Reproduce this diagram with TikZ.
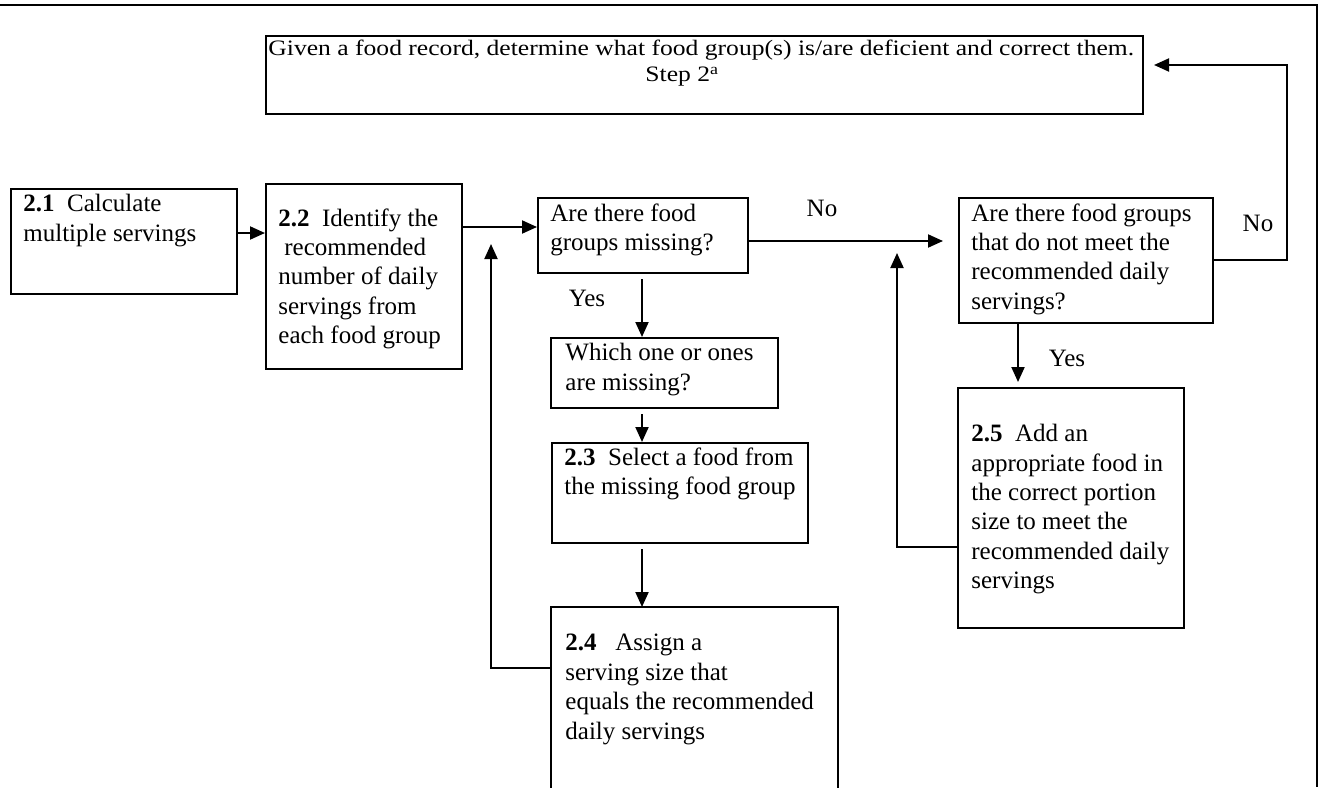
\documentclass[tikz,border=0pt]{standalone}
\usepackage{fontspec}
\usepackage{graphicx}
\setmainfont{Liberation Serif}
\usetikzlibrary{arrows.meta}
\newcommand{\fsz}{\fontsize{12.5}{14.7}\selectfont}
\newcommand{\tsz}{\fontsize{12.8}{15.5}\selectfont}
\tikzset{
  box/.style={draw, line width=1pt, inner sep=0pt, anchor=north west},
  ghost/.style={inner sep=0pt, anchor=north west},
  txt/.style={inner sep=0pt, anchor=north west, align=left, font=\fsz},
  lbl/.style={inner sep=0pt, font=\fsz},
  arr/.style={line width=1pt, -{Triangle[length=7.5pt,width=6.5pt]}},
  ln/.style={line width=1pt},
  frame/.style={line width=0.8pt}
}
\begin{document}
\begin{tikzpicture}[x=0.5pt,y=-0.5pt]
\useasboundingbox (0,0) rectangle (1320,787);
% frame
\coordinate (fl) at (0,5);
\coordinate (fc) at (1317,5);
\coordinate (fb) at (1317,787);
\draw[frame] (fl) -- (fc) -- (fb);

% boxes
\node[box, minimum width=438.5pt, minimum height=39pt] (top) at (265,35) {};
\node[box, minimum width=113pt, minimum height=52.5pt] (b21) at (10,188) {};
\node[box, minimum width=98pt, minimum height=92.5pt] (b22) at (265,183) {};
\node[box, minimum width=105pt, minimum height=37.5pt] (q1) at (537,197) {};
\node[box, minimum width=127pt, minimum height=62.5pt] (q2) at (958,197) {};
\node[box, minimum width=113.5pt, minimum height=35pt] (which) at (550,337) {};
\node[box, minimum width=128pt, minimum height=50pt] (b23) at (551,442) {};
\node[ghost, minimum width=143pt, minimum height=95pt] (b24) at (551,607) {};
\draw[ln] (b24.south west) -- (b24.north west) -- (b24.north east) -- (b24.south east);
\node[box, minimum width=113pt, minimum height=120pt] (b25) at (957,387) {};

% texts
\node[inner sep=0pt, anchor=north west, font=\tsz] (ttop) at (268,36)
  {\scalebox{1}[0.86]{\begin{tabular}{@{}l@{}}Given a food record, determine what food group(s) is/are deficient and correct them.\\\hspace*{188.5pt}Step 2\textsuperscript{a}\end{tabular}}};
\node[txt] (t21) at (23,194) {\textbf{2.1}\ \ Calculate\\multiple servings};
\node[txt] (t22) at (278,208) {\textbf{2.2}\ \ Identify the\\\hspace*{3pt}recommended\\number of daily\\servings from\\each food group};
\node[txt] (tq1) at (550,203) {Are there food\\groups missing?};
\node[txt] (tq2) at (971,203) {Are there food groups\\that do not meet the\\recommended daily\\servings?};
\node[txt] (twh) at (565,343) {Which one or ones\\are missing?};
\node[txt] (t23) at (564,447) {\textbf{2.3}\ \ Select a food from\\the missing food group};
\node[txt] (t24) at (565,634) {\textbf{2.4}\ \ \ Assign a\\serving size that\\equals the recommended\\daily servings};
\node[txt] (t25) at (971,424) {\textbf{2.5}\ \ Add an\\appropriate food in\\the correct portion\\size to meet the\\recommended daily\\servings};

% labels
\node[lbl] (no1) at (822,208) {No};
\node[lbl] (yes1) at (587,298) {Yes};
\node[lbl] (yes2) at (1067,358) {Yes};
\node[lbl] (no2) at (1258,223) {No};

% helper coordinates
\coordinate (r233) at (0,233);
\coordinate (r227) at (0,227);
\coordinate (r241) at (0,241);
\coordinate (r260) at (0,260);
\coordinate (nx) at (1287,65);
\coordinate (aTip) at (491,244);
\coordinate (aRow) at (0,668);
\coordinate (bTip) at (897,253);
\coordinate (bRow) at (0,547);
\coordinate (cx) at (642,0);
\coordinate (dx) at (1018,0);

% connectors
\draw[arr] (b21.east |- r233) -- (b22.west |- r233);
\draw[arr] (b22.east |- r227) -- (q1.west |- r227);
\draw[arr] (b24.west |- aRow) -| (aTip);
\draw[arr, shorten >=7.5pt] (q1.east |- r241) -- (q2.west |- r241);
\draw[arr] (b25.west |- bRow) -| (bTip);
\draw[arr, shorten >=5pt] (q2.east |- r260) -| (nx) -- (top.east |- nx);
\draw[arr, shorten <=2.5pt] (cx |- q1.south) -- (cx |- which.north);
\draw[arr, shorten <=2.5pt] (cx |- which.south) -- (cx |- b23.north);
\draw[arr, shorten <=2.5pt] (cx |- b23.south) -- (cx |- b24.north);
\draw[arr, shorten >=2.5pt] (dx |- q2.south) -- (dx |- b25.north);
\end{tikzpicture}
\end{document}
